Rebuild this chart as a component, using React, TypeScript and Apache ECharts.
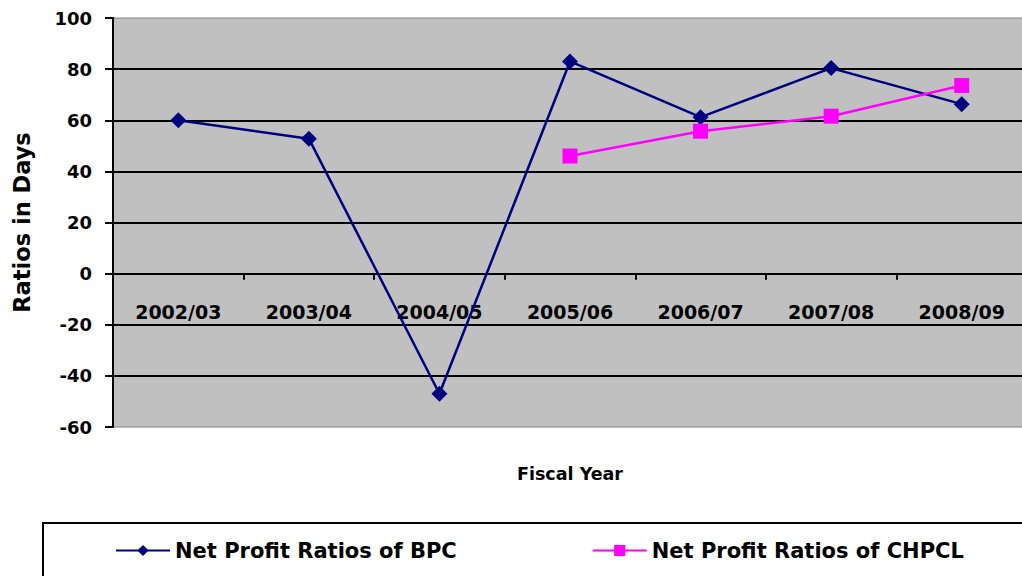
import React, { useEffect, useRef } from "react";
import * as echarts from "echarts";

const categories = ["2002/03", "2003/04", "2004/05", "2005/06", "2006/07", "2007/08", "2008/09"];
const bpcValues = [60, 52.8, -47, 83, 61.2, 80.4, 66.3];
const chpclValues = [null, null, null, 46, 55.7, 61.6, 73.6];
const seriesNames = ["Net Profit Ratios of BPC", "Net Profit Ratios of CHPCL"];

const FONT = "DejaVu Sans";

export default function App() {
  const ref = useRef<HTMLDivElement>(null);
  useEffect(() => {
    document.body.style.margin = "0";
    document.body.style.overflow = "hidden";
    const chart = echarts.init(ref.current!, null, { renderer: "svg" });
    chart.setOption({
      animation: false,
      backgroundColor: "#ffffff",
      grid: {
        left: 113,
        top: 18,
        right: 0,
        bottom: 149,
        show: true,
        backgroundColor: "#C0C0C0",
        borderColor: "#808080",
        borderWidth: 1,
      },
      graphic: [
        {
          type: "rect",
          shape: { x: 43, y: 523, width: 1010, height: 80 },
          style: { fill: "none", stroke: "#000", lineWidth: 2 },
          silent: true,
        },
        {
          type: "text",
          x: 570,
          y: 474,
          style: {
            text: "Fiscal Year",
            fontFamily: FONT,
            fontWeight: "bold",
            fontSize: 17.5,
            fill: "#000",
            align: "center",
            verticalAlign: "middle",
          },
        },
      ],
      legend: {
        left: 110,
        top: 535,
        itemWidth: 54,
        itemHeight: 14,
        itemGap: 135,
        textStyle: { fontFamily: FONT, fontWeight: "bold", fontSize: 21, color: "#000" },
        data: seriesNames,
      },
      xAxis: {
        type: "category",
        data: categories,
        boundaryGap: true,
        axisLine: { onZero: true, lineStyle: { color: "#000", width: 2 } },
        axisTick: { show: true, length: 6, lineStyle: { color: "#000", width: 2 } },
        axisLabel: {
          interval: 0,
          margin: -125,
          fontFamily: FONT,
          fontWeight: "bold",
          fontSize: 19,
          color: "#000",
        },
        splitLine: { show: false },
      },
      yAxis: {
        type: "value",
        min: -60,
        max: 100,
        interval: 20,
        name: "Ratios in Days",
        nameLocation: "middle",
        nameGap: 80,
        nameTextStyle: { fontFamily: FONT, fontWeight: "bold", fontSize: 22.5, color: "#000" },
        axisLine: { show: true, lineStyle: { color: "#000", width: 2 } },
        axisTick: { show: true, length: 8, lineStyle: { color: "#000", width: 2 } },
        axisLabel: { margin: 21, fontFamily: FONT, fontWeight: "bold", fontSize: 18, color: "#000" },
        splitLine: {
          show: true,
          showMinLine: false,
          showMaxLine: false,
          lineStyle: { color: "#000", width: 2 },
        },
      },
      series: [
        {
          name: seriesNames[0],
          type: "line",
          data: bpcValues,
          symbol: "diamond",
          symbolSize: 16,
          itemStyle: { color: "#000080" },
          lineStyle: { color: "#000080", width: 2.5 },
          connectNulls: false,
        },
        {
          name: seriesNames[1],
          type: "line",
          data: chpclValues,
          symbol: "rect",
          symbolSize: 15,
          itemStyle: { color: "#FF00FF" },
          lineStyle: { color: "#FF00FF", width: 2.5 },
          connectNulls: false,
        },
      ],
    });
    return () => chart.dispose();
  }, []);
  return (
    <div
      ref={ref}
      style={{ position: "fixed", left: 0, top: 0, width: 1027, height: 576, overflow: "hidden" }}
    />
  );
}
